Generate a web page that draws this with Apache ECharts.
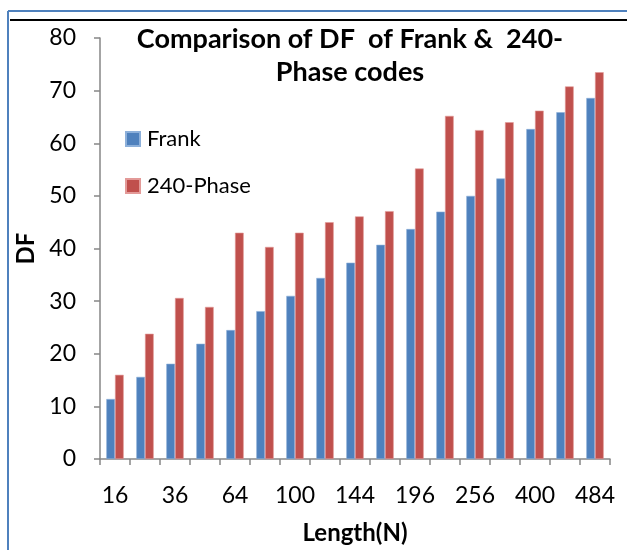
<!DOCTYPE html>
<html>
<head>
<meta charset="utf-8">
<script src="https://cdn.jsdelivr.net/npm/echarts@6/dist/echarts.min.js"></script>
<style>
  html, body { margin: 0; padding: 0; background: #fff; }
  #chart { width: 627px; height: 550px; }
</style>
</head>
<body>
<div id="chart"></div>
<script>
// Code lengths N (every other label shown on the axis)
const lengths = ['16', '25', '36', '49', '64', '81', '100', '121', '144', '169',
                 '196', '225', '256', '324', '400', '441', '484'];
// Discrimination factor (DF) per code family
const frankDF = [11.4, 15.6, 18.1, 21.9, 24.5, 28.1, 31.0, 34.4, 37.3, 40.7,
                 43.7, 47.0, 50.0, 53.3, 62.7, 65.9, 68.6];
const phase240DF = [16.0, 23.8, 30.6, 28.9, 43.0, 40.3, 43.0, 45.0, 46.1, 47.1,
                    55.2, 65.2, 62.5, 64.0, 66.2, 70.8, 73.5];
const yTicks = { min: 0, max: 80, step: 10 };

const FONT = 'Lato, "Open Sans", sans-serif';
const AXIS_GRAY = '#868686';

const chart = echarts.init(document.getElementById('chart'), null, { renderer: 'canvas' });

chart.setOption({
  animation: false,
  backgroundColor: '#ffffff',
  textStyle: { fontFamily: FONT },
  title: {
    text: 'Comparison of DF  of Frank &  240-\nPhase codes',
    left: 350,
    top: 23,
    padding: 0,
    textAlign: 'center',
    textStyle: {
      fontFamily: FONT,
      fontSize: 27,
      fontWeight: 'bold',
      color: '#000',
      lineHeight: 33
    }
  },
  legend: {
    orient: 'vertical',
    left: 125,
    top: 128,
    padding: 0,
    itemGap: 25,
    itemWidth: 14,
    itemHeight: 14,
    icon: 'rect',
    textStyle: { fontFamily: FONT, fontSize: 22, color: '#000', lineHeight: 22, padding: [0, 0, 0, 2] },
    data: ['Frank', '240-Phase']
  },
  grid: { left: 100, right: 17, top: 38, bottom: 91, containLabel: false, outerBoundsMode: 'none' },
  xAxis: {
    type: 'category',
    data: lengths,
    name: 'Length(N)',
    nameLocation: 'middle',
    nameGap: 62,
    nameTextStyle: { fontFamily: FONT, fontSize: 24, fontWeight: 'bold', color: '#000' },
    axisLine: { lineStyle: { color: AXIS_GRAY, width: 1.5 } },
    axisTick: { show: true, length: 6, interval: 0, lineStyle: { color: AXIS_GRAY, width: 1.5 } },
    axisLabel: { interval: 1, margin: 25, fontFamily: FONT, fontSize: 23, color: '#000' }
  },
  yAxis: {
    type: 'value',
    min: yTicks.min,
    max: yTicks.max,
    interval: yTicks.step,
    name: 'DF',
    nameLocation: 'middle',
    nameGap: 60,
    nameRotate: 90,
    nameTextStyle: { fontFamily: FONT, fontSize: 24, fontWeight: 'bold', color: '#000' },
    axisLine: { show: true, lineStyle: { color: AXIS_GRAY, width: 1.5 } },
    axisTick: { show: true, length: 6, lineStyle: { color: AXIS_GRAY, width: 1.5 } },
    axisLabel: { margin: 24, fontFamily: FONT, fontSize: 23, color: '#000' },
    splitLine: { show: false }
  },
  series: [
    {
      name: 'Frank',
      type: 'bar',
      data: frankDF,
      barGap: '0%',
      barCategoryGap: '42%',
      itemStyle: { color: '#4F81BD', borderColor: '#8DB0DA', borderWidth: 0.6 }
    },
    {
      name: '240-Phase',
      type: 'bar',
      data: phase240DF,
      itemStyle: { color: '#C0504D', borderColor: '#E39A98', borderWidth: 0.6 }
    }
  ],
  graphic: [
    // outer frame (left and top edges)
    { type: 'line', shape: { x1: 8, y1: 11, x2: 8, y2: 550 },
      style: { stroke: '#4F81BD', lineWidth: 2 } },
    { type: 'line', shape: { x1: 8, y1: 11, x2: 627, y2: 11 },
      style: { stroke: '#4F81BD', lineWidth: 2 } },
    // black rule under the frame top
    { type: 'line', shape: { x1: 10, y1: 20, x2: 627, y2: 20 },
      style: { stroke: '#000', lineWidth: 2 } }
  ]
});
</script>
</body>
</html>
